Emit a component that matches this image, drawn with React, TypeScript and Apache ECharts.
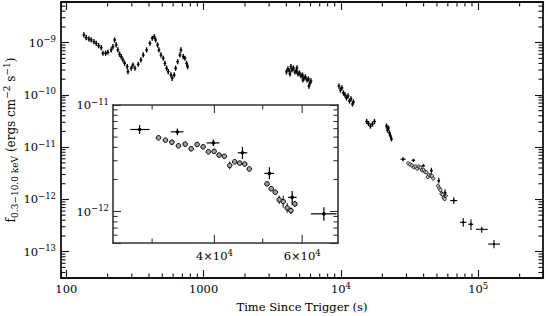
import React, { useEffect, useRef } from "react";
import * as echarts from "echarts";

// ---------------- data (time in s, flux in erg cm^-2 s^-1) ----------------
const seg1Time = [134.3, 139.6, 146.1, 151.8, 158.9, 165.1, 171.9, 179.6, 184.8, 193.3, 200.9, 212.3, 218.5, 224.8, 230.9, 237.5, 244.4, 251.1, 258.4, 265.9, 277.8, 281.1, 297.0, 305.6, 316.0, 334.0, 349.5, 363.2, 384.6, 406.4, 422.4, 436.9, 447.3, 462.4, 472.5, 488.7, 507.9, 522.6, 537.7, 552.4, 577.9, 590.7, 610.9, 625.4, 646.7, 672.2, 683.6, 710.4, 730.9, 752.0, 764.8];
const seg1Flux = [14.04e-10, 12.46e-10, 11.77e-10, 11.26e-10, 10.45e-10, 9.74e-10, 8.76e-10, 8.02e-10, 6.27e-10, 6.27e-10, 6.55e-10, 7.25e-10, 8.38e-10, 11.26e-10, 9.04e-10, 7.25e-10, 6.0e-10, 5.4e-10, 4.67e-10, 4.03e-10, 3.47e-10, 2.79e-10, 3.24e-10, 3.74e-10, 3.24e-10, 3.86e-10, 4.67e-10, 5.82e-10, 7.25e-10, 9.74e-10, 12.14e-10, 13.02e-10, 11.26e-10, 9.04e-10, 7.25e-10, 5.82e-10, 5.03e-10, 4.03e-10, 3.24e-10, 2.79e-10, 2.41e-10, 2.08e-10, 2.41e-10, 3.24e-10, 4.33e-10, 5.82e-10, 7.25e-10, 5.4e-10, 5.03e-10, 4.03e-10, 3.47e-10];

const seg2Time = [4010, 4111, 4216, 4251, 4323, 4396, 4508, 4624, 4742, 4783, 4863, 4987, 5114, 5244, 5289, 5378, 5514, 5655, 5799, 5848, 5947, 6047];
const seg2Flux = [2.75e-10, 3.14e-10, 2.87e-10, 2.52e-10, 3.5e-10, 3.0e-10, 3.28e-10, 2.75e-10, 2.87e-10, 3.28e-10, 2.52e-10, 2.63e-10, 2.31e-10, 2.41e-10, 1.93e-10, 2.11e-10, 2.21e-10, 1.93e-10, 2.02e-10, 1.48e-10, 1.69e-10, 1.85e-10];

const seg3Time = [9670, 9917, 10170, 10430, 10700, 10970, 11250, 11530, 11830, 12130, 12330];
const seg3Flux = [14.8e-11, 12.4e-11, 13.6e-11, 10.9e-11, 9.98e-11, 8.74e-11, 9.55e-11, 7.66e-11, 8.37e-11, 6.71e-11, 7.33e-11];

const seg4Time = [15390, 15860, 16400, 16960, 17540, 21450, 21810, 22180, 22550, 22930, 23320];
const seg4Flux = [3.1e-11, 2.84e-11, 2.54e-11, 2.78e-11, 3.1e-11, 2.54e-11, 2.13e-11, 2.33e-11, 1.87e-11, 1.64e-11, 1.44e-11];

const crossTime = [28310, 33720, 39820, 45530, 51570, 57290, 66330, 77750, 88470, 105900, 130100];
const crossTimeLo = [27120, 32700, 38620, 44570, 50360, 56240, 62470, 73560, 84570, 96230, 118200];
const crossTimeHi = [29640, 34680, 40930, 46560, 52680, 58480, 70320, 82170, 91960, 117100, 143900];
const crossFlux = [5.89e-12, 5.6e-12, 4.41e-12, 3.56e-12, 2.28e-12, 1.36e-12, 9.52e-13, 3.66e-13, 3.35e-13, 2.68e-13, 1.4e-13];
const crossFluxLo = [5.35e-12, 5.21e-12, 4.11e-12, 3.11e-12, 2.01e-12, 1.155e-12, 8.19e-13, 3.01e-13, 2.6e-13, 2.31e-13, 1.16e-13];
const crossFluxHi = [6.49e-12, 6.02e-12, 4.75e-12, 4.05e-12, 2.6e-12, 1.56e-12, 1.099e-12, 4.36e-13, 4.17e-13, 3.01e-13, 1.675e-13];

const circTime = [30900, 31910, 32870, 33880, 34950, 35930, 36940, 37970, 38910, 39950, 40880, 41880, 42940, 43940, 44970, 46020, 47000, 51000, 52010, 52980, 53960, 54970, 55980, 56950, 58010];
const circFlux = [4.92e-12, 4.68e-12, 4.48e-12, 4.14e-12, 4.29e-12, 3.88e-12, 4.26e-12, 4.05e-12, 3.64e-12, 3.67e-12, 3.39e-12, 3.3e-12, 2.71e-12, 2.93e-12, 2.85e-12, 2.79e-12, 2.51e-12, 1.82e-12, 1.64e-12, 1.52e-12, 1.29e-12, 1.24e-12, 1.083e-12, 1.02e-12, 1.18e-12];
const circFluxLo = [4.71e-12, 4.48e-12, 4.29e-12, 3.96e-12, 4.11e-12, 3.71e-12, 4.08e-12, 3.88e-12, 3.48e-12, 3.51e-12, 3.24e-12, 3.16e-12, 2.49e-12, 2.8e-12, 2.73e-12, 2.67e-12, 2.4e-12, 1.74e-12, 1.57e-12, 1.45e-12, 1.18e-12, 1.09e-12, 0.975e-12, 0.957e-12, 1.11e-12];
const circFluxHi = [5.14e-12, 4.89e-12, 4.68e-12, 4.33e-12, 4.48e-12, 4.05e-12, 4.45e-12, 4.23e-12, 3.8e-12, 3.84e-12, 3.54e-12, 3.45e-12, 2.95e-12, 3.06e-12, 2.98e-12, 2.92e-12, 2.62e-12, 1.9e-12, 1.71e-12, 1.59e-12, 1.41e-12, 1.41e-12, 1.2e-12, 1.09e-12, 1.26e-12];

// axis ranges and inset tick values
const mainTimeRange = [91.5, 296000];
const mainFluxRange = [3.14e-14, 6.0e-9];
const insetTimeRange = [25040, 70800];
const insetFluxRange = [5.07e-13, 1.0e-11];
const insetTimeMajor = [40000, 60000];
const insetTimeMinor = [30000, 50000];

// ---------------- helpers ----------------
const FONT = "DejaVu Serif";
const FLUX_UNIT = 1e14; // plotting unit (keeps log scale away from tiny numbers)
const MINUS = "\u2212";
const S = (f: number) => f * FLUX_UNIT;

const RICH = {
  b: { fontFamily: FONT, fontSize: 11.5, color: "#000", fill: "#000", lineHeight: 16, verticalAlign: "middle" },
  s: { fontFamily: FONT, fontSize: 8.5, color: "#000", fill: "#000", lineHeight: 11, verticalAlign: "top" },
  sub: { fontFamily: FONT, fontSize: 8.5, color: "#000", fill: "#000", lineHeight: 9, verticalAlign: "bottom" },
};
const NAME_RICH = {
  b: { fontFamily: FONT, fontSize: 12, color: "#000", lineHeight: 17, verticalAlign: "middle" },
  s: { fontFamily: FONT, fontSize: 9, color: "#000", lineHeight: 11, verticalAlign: "top" },
  sub: { fontFamily: FONT, fontSize: 9, color: "#000", lineHeight: 9, verticalAlign: "bottom" },
};

const decadeExp = (v: number): number | null => {
  const e = Math.log10(v);
  const r = Math.round(e);
  return Math.abs(e - r) < 1e-6 ? r : null;
};
const powLabel = (e: number) => `{b|10}{s|${e < 0 ? MINUS : ""}${Math.abs(e)}}`;
const sciLabel = (v: number) => {
  const e = Math.floor(Math.log10(v) + 1e-9);
  const m = Math.round(v / Math.pow(10, e));
  return `{b|${m}\u00d710}{s|${e}}`;
};

const minorValues = (lo: number, hi: number) => {
  const out: number[] = [];
  for (let k = Math.floor(Math.log10(lo)); k <= Math.ceil(Math.log10(hi)); k++) {
    for (let m = 2; m <= 9; m++) {
      const v = m * Math.pow(10, k);
      if (v > lo * 1.0001 && v < hi * 0.9999) out.push(v);
    }
  }
  return out;
};

const MAIN_AX = "#111";
const INSET_AX = "#333";

function tickRenderer(color: string, minorLen: number, majorLen: number, labelGap: number) {
  return (params: any, api: any) => {
    const cs = params.coordSys;
    const kind = api.value(2);
    const p = api.coord([api.value(0), api.value(1)]);
    const st = { stroke: color, lineWidth: 1.1 };
    const children: any[] = [];
    if (kind === 1) {
      const y = p[1];
      children.push({ type: "line", shape: { x1: cs.x, y1: y, x2: cs.x + minorLen, y2: y }, style: st });
      children.push({ type: "line", shape: { x1: cs.x + cs.width, y1: y, x2: cs.x + cs.width - minorLen, y2: y }, style: st });
    } else {
      const x = p[0];
      const len = kind === 2 ? majorLen : minorLen;
      const yb = cs.y + cs.height;
      children.push({ type: "line", shape: { x1: x, y1: yb, x2: x, y2: yb - len }, style: st });
      children.push({ type: "line", shape: { x1: x, y1: cs.y, x2: x, y2: cs.y + len }, style: st });
      if (kind === 2) {
        children.push({
          type: "text",
          x,
          y: yb + labelGap,
          style: { text: sciLabel(api.value(0)), rich: RICH, align: "center", verticalAlign: "top", fill: "#000" },
        });
      }
    }
    return { type: "group", children };
  };
}

const pointRender = (params: any, api: any) => {
  const c = api.coord([api.value(0), api.value(1)]);
  const st = { stroke: "#000", lineWidth: 1.4 };
  return {
    type: "group",
    children: [
      { type: "line", shape: { x1: c[0], y1: c[1] - 2.6, x2: c[0], y2: c[1] + 2.6 }, style: st },
      { type: "line", shape: { x1: c[0] - 1.4, y1: c[1], x2: c[0] + 1.4, y2: c[1] }, style: st },
    ],
  };
};

const crossRenderer = (lw: number, dot: number) => (params: any, api: any) => {
  const t = api.value(0);
  const f = api.value(1);
  const c = api.coord([t, f]);
  const l = api.coord([api.value(2), f]);
  const r = api.coord([api.value(3), f]);
  const b = api.coord([t, api.value(4)]);
  const u = api.coord([t, api.value(5)]);
  const st = { stroke: "#000", lineWidth: lw };
  return {
    type: "group",
    children: [
      { type: "line", shape: { x1: l[0], y1: c[1], x2: r[0], y2: c[1] }, style: st },
      { type: "line", shape: { x1: c[0], y1: b[1], x2: c[0], y2: u[1] }, style: st },
      { type: "circle", shape: { cx: c[0], cy: c[1], r: dot }, style: { fill: "#000" } },
    ],
  };
};

const circleRenderer = (radius: number, lw: number, fill: string) => (params: any, api: any) => {
  const t = api.value(0);
  const c = api.coord([t, api.value(1)]);
  const b = api.coord([t, api.value(2)]);
  const u = api.coord([t, api.value(3)]);
  return {
    type: "group",
    children: [
      { type: "line", shape: { x1: c[0], y1: b[1], x2: c[0], y2: u[1] }, style: { stroke: "#000", lineWidth: 1 } },
      { type: "circle", shape: { cx: c[0], cy: c[1], r: radius }, style: { fill, stroke: "#000", lineWidth: lw } },
    ],
  };
};

function buildOption() {
  const pointData: number[][] = [];
  const segs: [number[], number[]][] = [
    [seg1Time, seg1Flux],
    [seg2Time, seg2Flux],
    [seg3Time, seg3Flux],
    [seg4Time, seg4Flux],
  ];
  segs.forEach(([ts, fs]) => ts.forEach((t, i) => pointData.push([t, S(fs[i])])));

  const crossData = crossTime.map((t, i) => [t, S(crossFlux[i]), crossTimeLo[i], crossTimeHi[i], S(crossFluxLo[i]), S(crossFluxHi[i])]);
  const insetCrossData = crossData.filter((d) => d[3] <= insetTimeRange[1]);
  const circData = circTime.map((t, i) => [t, S(circFlux[i]), S(circFluxLo[i]), S(circFluxHi[i])]);

  const mYmin = S(mainFluxRange[0]);
  const mYmax = S(mainFluxRange[1]);
  const iYmin = S(insetFluxRange[0]);
  const iYmax = S(insetFluxRange[1]);

  const mainTicks: number[][] = [
    ...minorValues(mainTimeRange[0], mainTimeRange[1]).map((v) => [v, mYmin, 0]),
    ...minorValues(mYmin, mYmax).map((v) => [mainTimeRange[0], v, 1]),
  ];
  const insetTicks: number[][] = [
    ...insetTimeMinor.map((v) => [v, iYmin, 0]),
    ...insetTimeMajor.map((v) => [v, iYmin, 2]),
    ...minorValues(iYmin, iYmax).map((v) => [insetTimeRange[0], v, 1]),
  ];

  const axisBase = (color: string, width: number) => ({
    axisLine: { show: true, onZero: false, lineStyle: { color, width } },
    axisTick: { show: true, inside: true, length: 8, lineStyle: { color, width: 1.1 } },
    splitLine: { show: false },
    minorTick: { show: false },
    minorSplitLine: { show: false },
  });

  const fmtMainX = (v: number) => {
    const e = decadeExp(v);
    if (e === null) return "";
    return e <= 3 ? `{b|${Math.round(v)}}` : powLabel(e);
  };
  const fmtFlux = (v: number) => {
    const e = decadeExp(v);
    if (e === null) return "";
    return powLabel(e - 14);
  };

  return {
    animation: false,
    backgroundColor: "#fff",
    grid: [
      { left: 61, top: 2, width: 482, height: 276, show: false, containLabel: false, outerBoundsMode: "none" },
      {
        left: 113, top: 105, width: 225, height: 138, show: true, backgroundColor: "#fff", borderWidth: 0,
        containLabel: false, outerBoundsMode: "none",
      },
    ],
    xAxis: [
      {
        type: "log", gridIndex: 0, position: "bottom", min: mainTimeRange[0], max: mainTimeRange[1],
        ...axisBase(MAIN_AX, 1.8),
        axisLabel: { show: true, margin: 3, formatter: fmtMainX, rich: RICH },
        name: "Time Since Trigger (s)", nameLocation: "middle", nameGap: 23, nameMoveOverlap: false,
        nameTextStyle: { fontFamily: FONT, fontSize: 11.5, color: "#000" },
      },
      {
        type: "log", gridIndex: 0, position: "top", min: mainTimeRange[0], max: mainTimeRange[1],
        ...axisBase(MAIN_AX, 1.8), axisLabel: { show: false },
      },
      {
        type: "log", gridIndex: 1, position: "bottom", min: insetTimeRange[0], max: insetTimeRange[1],
        ...axisBase(INSET_AX, 1.6), axisTick: { show: false }, axisLabel: { show: false },
      },
      {
        type: "log", gridIndex: 1, position: "top", min: insetTimeRange[0], max: insetTimeRange[1],
        ...axisBase(INSET_AX, 1.6), axisTick: { show: false }, axisLabel: { show: false },
      },
    ],
    yAxis: [
      {
        type: "log", gridIndex: 0, position: "left", min: mYmin, max: mYmax,
        ...axisBase(MAIN_AX, 1.8),
        axisLabel: { show: true, margin: 5, formatter: fmtFlux, rich: RICH },
        name: `{b|f}{sub|0.3${MINUS}10.0 keV}{b| (ergs cm}{s|${MINUS}2}{b| s}{s|${MINUS}1}{b|)}`,
        nameLocation: "middle", nameRotate: 90, nameGap: 42, nameMoveOverlap: false,
        nameTextStyle: { rich: NAME_RICH },
      },
      {
        type: "log", gridIndex: 0, position: "right", min: mYmin, max: mYmax,
        ...axisBase(MAIN_AX, 1.8), axisLabel: { show: false },
      },
      {
        type: "log", gridIndex: 1, position: "left", min: iYmin, max: iYmax,
        ...axisBase(INSET_AX, 1.6),
        axisLabel: { show: true, margin: 4, formatter: fmtFlux, rich: RICH },
      },
      {
        type: "log", gridIndex: 1, position: "right", min: iYmin, max: iYmax,
        ...axisBase(INSET_AX, 1.6), axisLabel: { show: false },
      },
    ],
    series: [
      {
        type: "custom", name: "mainMinorTicks", xAxisIndex: 0, yAxisIndex: 0, clip: false, silent: true,
        dimensions: ["x", "y", "k"], encode: { x: 0, y: 1 },
        renderItem: tickRenderer(MAIN_AX, 4.5, 8, 5), data: mainTicks, z: 5,
      },
      {
        type: "custom", name: "points", xAxisIndex: 0, yAxisIndex: 0, silent: true,
        encode: { x: 0, y: 1 }, renderItem: pointRender, data: pointData,
      },
      {
        type: "custom", name: "mainCircles", xAxisIndex: 0, yAxisIndex: 0, silent: true,
        encode: { x: 0, y: [1, 2, 3] }, renderItem: circleRenderer(1.6, 0.8, "#d0d0d0"), data: circData,
      },
      {
        type: "custom", name: "mainCrosses", xAxisIndex: 0, yAxisIndex: 0, silent: true,
        encode: { x: [0, 2, 3], y: [1, 4, 5] }, renderItem: crossRenderer(1.1, 1.2), data: crossData,
      },
      {
        type: "custom", name: "insetTicks", xAxisIndex: 2, yAxisIndex: 2, clip: false, silent: true,
        dimensions: ["x", "y", "k"], encode: { x: 0, y: 1 },
        renderItem: tickRenderer(INSET_AX, 4.5, 8, 5), data: insetTicks, z: 5,
      },
      {
        type: "custom", name: "insetCircles", xAxisIndex: 2, yAxisIndex: 2, silent: true,
        encode: { x: 0, y: [1, 2, 3] }, renderItem: circleRenderer(2.3, 1, "#a0a0a0"), data: circData,
      },
      {
        type: "custom", name: "insetCrosses", xAxisIndex: 2, yAxisIndex: 2, silent: true,
        encode: { x: [0, 2, 3], y: [1, 4, 5] }, renderItem: crossRenderer(1.2, 1.8), data: insetCrossData,
      },
    ],
  };
}

export default function App() {
  const ref = useRef<HTMLDivElement>(null);
  useEffect(() => {
    if (!ref.current) return;
    const chart = echarts.init(ref.current, null, { renderer: "svg" });
    chart.setOption(buildOption() as any);
    return () => chart.dispose();
  }, []);
  return (
    <div
      ref={ref}
      style={{ position: "absolute", left: 0, top: 0, width: 548, height: 316, background: "#fff" }}
    />
  );
}
